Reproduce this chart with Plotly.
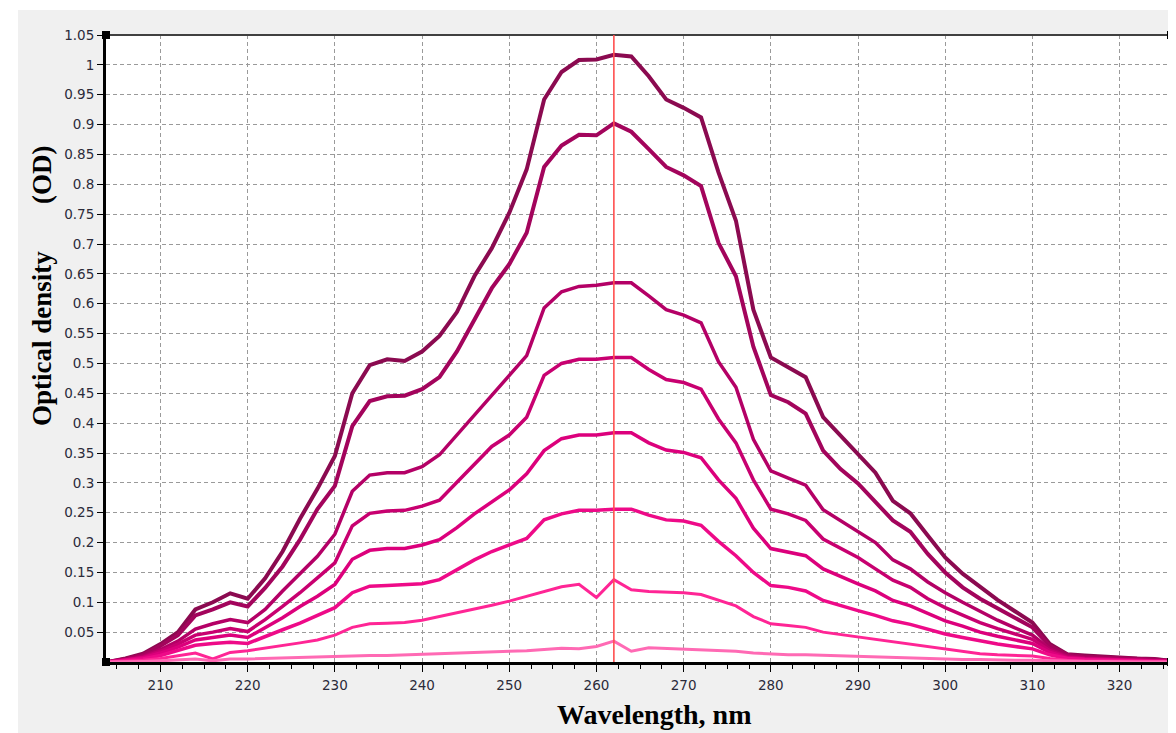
import plotly.graph_objects as go

wavelength = list(range(204, 328, 2))

od_1 = [0, 0.006, 0.014, 0.03, 0.05, 0.088, 0.1, 0.115, 0.106, 0.14, 0.185, 0.24, 0.29, 0.345, 0.45, 0.497, 0.507, 0.504,
        0.52, 0.546, 0.586, 0.646, 0.693, 0.752, 0.825, 0.942, 0.988, 1.008, 1.009, 1.017, 1.014, 0.981, 0.942, 0.928,
        0.912, 0.82, 0.739, 0.59, 0.51, 0.494, 0.477, 0.41, 0.379, 0.348, 0.317, 0.27, 0.249, 0.212, 0.175, 0.148,
        0.125, 0.104, 0.085, 0.066, 0.03, 0.013, 0.011, 0.009, 0.007, 0.006, 0.005, 0.002]
od_2 = [0, 0.005, 0.012, 0.027, 0.045, 0.078, 0.088, 0.1, 0.093, 0.124, 0.16, 0.205, 0.256, 0.295, 0.395, 0.437, 0.445,
        0.446, 0.457, 0.477, 0.52, 0.573, 0.626, 0.666, 0.719, 0.829, 0.865, 0.883, 0.882, 0.902, 0.888, 0.859, 0.829,
        0.815, 0.797, 0.702, 0.646, 0.528, 0.447, 0.435, 0.416, 0.354, 0.323, 0.299, 0.268, 0.237, 0.218, 0.181, 0.15,
        0.125, 0.106, 0.09, 0.074, 0.058, 0.027, 0.012, 0.009, 0.008, 0.006, 0.005, 0.004, 0.002]
od_3 = [0, 0.004, 0.01, 0.021, 0.035, 0.055, 0.064, 0.071, 0.066, 0.088, 0.119, 0.149, 0.177, 0.214, 0.286, 0.313, 0.317,
        0.317, 0.327, 0.347, 0.38, 0.414, 0.447, 0.48, 0.513, 0.593, 0.62, 0.629, 0.631, 0.635, 0.635, 0.613, 0.59,
        0.581, 0.568, 0.503, 0.46, 0.373, 0.32, 0.308, 0.296, 0.255, 0.237, 0.218, 0.2, 0.171, 0.156, 0.134, 0.116,
        0.1, 0.085, 0.07, 0.057, 0.045, 0.022, 0.01, 0.007, 0.006, 0.005, 0.004, 0.003, 0.001]
od_4 = [0, 0.003, 0.008, 0.018, 0.03, 0.045, 0.05, 0.056, 0.051, 0.071, 0.093, 0.116, 0.141, 0.166, 0.228, 0.249, 0.253,
        0.254, 0.261, 0.271, 0.301, 0.331, 0.361, 0.38, 0.41, 0.48, 0.5, 0.507, 0.507, 0.51, 0.51, 0.49, 0.473, 0.468,
        0.457, 0.407, 0.367, 0.305, 0.256, 0.248, 0.237, 0.206, 0.19, 0.175, 0.156, 0.137, 0.125, 0.106, 0.091, 0.078,
        0.066, 0.056, 0.047, 0.038, 0.019, 0.008, 0.006, 0.005, 0.004, 0.003, 0.002, 0.001]
od_5 = [0, 0.003, 0.007, 0.015, 0.025, 0.037, 0.041, 0.045, 0.041, 0.057, 0.074, 0.093, 0.11, 0.13, 0.172, 0.187, 0.19,
        0.19, 0.196, 0.205, 0.225, 0.248, 0.268, 0.288, 0.315, 0.354, 0.374, 0.38, 0.38, 0.384, 0.384, 0.367, 0.355,
        0.351, 0.342, 0.305, 0.274, 0.224, 0.19, 0.184, 0.178, 0.156, 0.143, 0.131, 0.119, 0.103, 0.094, 0.081, 0.069,
        0.06, 0.05, 0.043, 0.037, 0.031, 0.016, 0.007, 0.005, 0.004, 0.003, 0.003, 0.002, 0.001]
od_6 = [0, 0.002, 0.005, 0.011, 0.019, 0.028, 0.031, 0.033, 0.031, 0.043, 0.054, 0.065, 0.078, 0.091, 0.116, 0.127, 0.128,
        0.129, 0.131, 0.138, 0.155, 0.171, 0.185, 0.196, 0.207, 0.238, 0.248, 0.254, 0.254, 0.256, 0.256, 0.246, 0.238,
        0.236, 0.229, 0.202, 0.178, 0.15, 0.128, 0.125, 0.119, 0.103, 0.094, 0.086, 0.078, 0.069, 0.063, 0.055, 0.047,
        0.041, 0.035, 0.03, 0.026, 0.022, 0.012, 0.006, 0.004, 0.003, 0.003, 0.002, 0.001, 0.001]
od_7 = [0, 0.001, 0.003, 0.006, 0.01, 0.015, 0.005, 0.016, 0.019, 0.023, 0.027, 0.032, 0.037, 0.045, 0.058, 0.064, 0.065,
        0.066, 0.07, 0.076, 0.082, 0.088, 0.095, 0.102, 0.11, 0.118, 0.126, 0.13, 0.108, 0.138, 0.121, 0.118, 0.117,
        0.116, 0.113, 0.103, 0.094, 0.076, 0.064, 0.061, 0.058, 0.05, 0.046, 0.042, 0.038, 0.033, 0.03, 0.025, 0.021,
        0.017, 0.014, 0.012, 0.011, 0.01, 0.006, 0.003, 0.002, 0.002, 0.001, 0.001, 0.001, 0]
od_8 = [0, 0, 0.001, 0.002, 0.003, 0.005, 0.002, 0.005, 0.005, 0.006, 0.007, 0.008, 0.009, 0.01, 0.011, 0.011, 0.011,
        0.012, 0.012, 0.013, 0.014, 0.015, 0.016, 0.018, 0.019, 0.021, 0.023, 0.022, 0.026, 0.035, 0.018, 0.024, 0.023,
        0.022, 0.021, 0.02, 0.018, 0.015, 0.013, 0.012, 0.012, 0.011, 0.01, 0.009, 0.008, 0.007, 0.006, 0.005, 0.005,
        0.004, 0.004, 0.003, 0.003, 0.003, 0.002, 0.001, 0.001, 0.001, 0, 0, 0, 0]

series = [od_1, od_2, od_3, od_4, od_5, od_6, od_7, od_8]
colors = ["#8b0a50", "#a3045c", "#b40066", "#c80070", "#dc007c", "#ee0a88", "#ff2595", "#ff6ab4"]
widths = [4, 4, 3.5, 3.5, 3.5, 3.5, 3, 3]

x_ticks = list(range(210, 330, 10))
y_tickvals = [0.05 * i for i in range(1, 22)]
y_ticktext = ["0.05", "0.1", "0.15", "0.2", "0.25", "0.3", "0.35", "0.4", "0.45", "0.5", "0.55", "0.6", "0.65",
              "0.7", "0.75", "0.8", "0.85", "0.9", "0.95", "1", "1.05"]
marker_wavelength = 262

fig = go.Figure()
for vals, c, w in zip(series, colors, widths):
    fig.add_trace(go.Scatter(x=wavelength, y=vals, mode="lines", line=dict(color=c, width=w),
                             showlegend=False, hoverinfo="skip"))

tick_font = dict(family="DejaVu Sans, Verdana", size=13.5, color="#2b2b3a")
grid_dash = "4px,3px"
fig.update_xaxes(range=[203.75, 325.9], tickvals=x_ticks, ticks="outside", ticklen=7, tickcolor="black",
                 tickfont=tick_font, showgrid=True, gridcolor="#9a9a9a", griddash=grid_dash, gridwidth=1,
                 showline=True, linecolor="black", linewidth=3, zeroline=False,
                 minor=dict(dtick=2.5, tick0=0, ticks="outside", ticklen=4, tickcolor="black", showgrid=False),
                 ticklabelstandoff=2)
fig.update_yaxes(range=[0, 1.05], tickvals=y_tickvals, ticktext=y_ticktext, ticks="outside", ticklen=6,
                 tickcolor="black", tickfont=tick_font, showgrid=True, gridcolor="#9a9a9a", griddash=grid_dash,
                 gridwidth=1, showline=True, linecolor="black", linewidth=3, zeroline=False)

shapes = [
    # white strips outside the gray panel
    dict(type="rect", xref="paper", yref="paper", x0=-0.2, x1=-0.0826, y0=-0.2, y1=1.2,
         fillcolor="white", line_width=0, layer="below"),
    dict(type="rect", xref="paper", yref="paper", x0=-0.2, x1=1.2, y0=1.0399, y1=1.2,
         fillcolor="white", line_width=0, layer="below"),
    # top and right frame
    dict(type="line", xref="paper", yref="paper", x0=0, x1=1, y0=1, y1=1, line=dict(color="#404040", width=2)),
    dict(type="line", xref="paper", yref="paper", x0=1, x1=1, y0=0, y1=1, line=dict(color="#404040", width=2)),
    # red marker line
    dict(type="line", xref="x", yref="paper", x0=marker_wavelength, x1=marker_wavelength, y0=0, y1=1,
         line=dict(color="#ff4f4f", width=1.6)),
]
for ax, ay in [(0, 0), (0, 1), (1, 0), (1, 1)]:
    shapes.append(dict(type="rect", xref="paper", yref="paper", xsizemode="pixel", ysizemode="pixel",
                       xanchor=ax, yanchor=ay, x0=-4, x1=4, y0=-4, y1=4, fillcolor="black", line_width=0))

nb = "\u00a0"
fig.update_layout(
    width=1168, height=725,
    margin=dict(l=98, r=5, t=27, b=71),
    paper_bgcolor="#f0f0f0", plot_bgcolor="white",
    shapes=shapes,
    annotations=[
        dict(text="<b>Optical density" + nb * 7 + "(OD)</b>", xref="paper", yref="paper",
             x=-0.06, y=0.6, textangle=-90, showarrow=False, xanchor="center", yanchor="middle",
             font=dict(family="Liberation Serif, Times New Roman", size=27, color="black")),
        dict(text="<b>Wavelength, nm</b>", xref="paper", yref="paper", x=0.515, y=-0.084, showarrow=False,
             xanchor="center", yanchor="middle",
             font=dict(family="Liberation Serif, Times New Roman", size=28, color="black")),
    ],
)

fig.write_html("out.html")
